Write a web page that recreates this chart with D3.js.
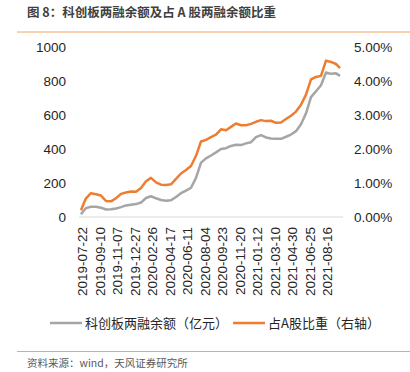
<!DOCTYPE html>
<html>
<head>
<meta charset="utf-8">
<script src="https://cdn.jsdelivr.net/npm/d3@7"></script>
<style>
  body { margin: 0; background: #fff; }
  svg { display: block; font-family: "Noto Sans CJK SC", "Liberation Sans", sans-serif; }
</style>
</head>
<body>
<script>
// trading-day index since 2019-07-22
var days = [0, 5, 10, 20, 30, 40, 50, 60, 70, 80, 90, 100, 110, 120, 130, 140, 150, 160, 170, 180,
    190, 200, 210, 220, 230, 240, 250, 260, 270, 280, 290, 300, 310, 320, 330, 340, 350, 360, 370, 380,
    390, 400, 410, 420, 430, 440, 450, 460, 470, 480, 490, 500, 510, 518];

// 科创板两融余额 (亿元)
var balance = [16, 35, 52, 60, 60, 55, 44, 45, 50, 58, 68, 72, 76, 85, 112, 122, 110, 100, 96, 98,
    118, 140, 155, 172, 230, 320, 345, 362, 380, 400, 405, 418, 425, 423, 433, 440, 470, 482, 468, 462,
    460, 460, 472, 485, 505, 545, 610, 705, 740, 775, 850, 842, 845, 830];

// 占A股比重 (%)
var share = [0.20, 0.38, 0.55, 0.70, 0.67, 0.63, 0.47, 0.46, 0.55, 0.68, 0.72, 0.75, 0.74, 0.85, 1.05, 1.15, 1.02, 0.95, 0.94, 0.96,
    1.12, 1.28, 1.38, 1.50, 1.80, 2.22, 2.27, 2.35, 2.42, 2.58, 2.55, 2.65, 2.75, 2.70, 2.70, 2.74, 2.80, 2.85, 2.82, 2.83,
    2.77, 2.78, 2.88, 2.98, 3.10, 3.30, 3.60, 4.05, 4.12, 4.15, 4.60, 4.56, 4.50, 4.38];

var tickDays = [0, 35, 70, 105, 140, 175, 210, 245, 280, 315, 350, 385, 420, 455, 490];
var tickLabels = ["2019-07-22", "2019-09-10", "2019-11-07", "2019-12-27", "2020-02-26", "2020-04-17",
    "2020-06-11", "2020-08-04", "2020-09-23", "2020-11-20", "2021-01-12", "2021-03-10", "2021-04-30",
    "2021-06-25", "2021-08-16"];

var leftTicks = [0, 200, 400, 600, 800, 1000];
var rightTicks = [0, 1, 2, 3, 4, 5];

var W = 410, H = 372;
var plot = { left: 81, right: 341, top: 47, bottom: 217 };

var svg = d3.select("body").append("svg")
    .attr("width", W)
    .attr("height", H);

// header
svg.append("text")
    .attr("x", 27).attr("y", 17)
    .attr("font-size", 12.5).attr("font-weight", "bold")
    .attr("fill", "#404040")
    .text("图 8：科创板两融余额及占 A 股两融余额比重");
svg.append("line")
    .attr("x1", 17).attr("x2", W).attr("y1", 32).attr("y2", 32)
    .attr("stroke", "#F4A460").attr("stroke-width", 1);

var x = d3.scaleLinear().domain([0, 520]).range([plot.left, plot.left + 520 * 0.5]);
var y = d3.scaleLinear().domain([0, 1000]).range([plot.bottom, plot.top]);
var y2 = d3.scaleLinear().domain([0, 5]).range([plot.bottom, plot.top]);

// axes
var yAxis = d3.axisLeft(y).tickValues(leftTicks).tickSize(0).tickPadding(0)
    .tickFormat(d3.format("d"));
svg.append("g")
    .attr("transform", "translate(66,0)")
    .call(yAxis)
    .call(g => g.select(".domain").remove())
    .selectAll("text")
    .attr("font-size", 13.5).attr("fill", "#262626")
    .attr("font-family", "Liberation Sans, sans-serif");

var yAxis2 = d3.axisRight(y2).tickValues(rightTicks).tickSize(0).tickPadding(0)
    .tickFormat(d => d.toFixed(2) + "%");
svg.append("g")
    .attr("transform", "translate(354,0)")
    .call(yAxis2)
    .call(g => g.select(".domain").remove())
    .selectAll("text")
    .attr("font-size", 13.5).attr("fill", "#262626")
    .attr("font-family", "Liberation Sans, sans-serif");

svg.append("line")
    .attr("x1", 79).attr("x2", 343)
    .attr("y1", plot.bottom).attr("y2", plot.bottom)
    .attr("stroke", "#D9D9D9").attr("stroke-width", 1);

var xAxis = d3.axisBottom(x).tickValues(tickDays).tickSize(0).tickPadding(0)
    .tickFormat((d, i) => tickLabels[i]);
svg.append("g")
    .attr("transform", "translate(0," + plot.bottom + ")")
    .call(xAxis)
    .call(g => g.select(".domain").remove())
    .selectAll("text")
    .attr("font-size", 13.5).attr("fill", "#262626")
    .attr("font-family", "Liberation Sans, sans-serif")
    .attr("text-anchor", "end")
    .attr("dy", "0.35em")
    .attr("transform", "translate(1,10) rotate(-90)")
    .attr("y", 0).attr("x", 0);

// lines
var pts = days.map((d, i) => ({ day: d, v: balance[i], p: share[i] }));

var lineBal = d3.line().x(d => x(d.day)).y(d => y(d.v));
var lineShare = d3.line().x(d => x(d.day)).y(d => y2(d.p));

svg.append("path")
    .datum(pts)
    .attr("d", lineBal)
    .attr("fill", "none")
    .attr("stroke", "#A5A5A5")
    .attr("stroke-width", 2.5)
    .attr("stroke-linejoin", "round");

svg.append("path")
    .datum(pts)
    .attr("d", lineShare)
    .attr("fill", "none")
    .attr("stroke", "#ED7D31")
    .attr("stroke-width", 2.5)
    .attr("stroke-linejoin", "round");

// legend
var legend = svg.append("g").attr("font-size", 13).attr("fill", "#262626");
legend.append("line")
    .attr("x1", 50).attr("x2", 82).attr("y1", 323).attr("y2", 323)
    .attr("stroke", "#A5A5A5").attr("stroke-width", 2.5);
legend.append("text").attr("x", 85).attr("y", 328).text("科创板两融余额（亿元）");
legend.append("line")
    .attr("x1", 233).attr("x2", 265).attr("y1", 323).attr("y2", 323)
    .attr("stroke", "#ED7D31").attr("stroke-width", 2.5);
legend.append("text").attr("x", 268).attr("y", 328).text("占A股比重（右轴）");

// footer
svg.append("line")
    .attr("x1", 17).attr("x2", W).attr("y1", 351.5).attr("y2", 351.5)
    .attr("stroke", "#F4A460").attr("stroke-width", 1);
svg.append("text")
    .attr("x", 27).attr("y", 367)
    .attr("font-size", 10.5).attr("fill", "#595959")
    .text("资料来源：wind，天风证券研究所");
</script>
</body>
</html>
